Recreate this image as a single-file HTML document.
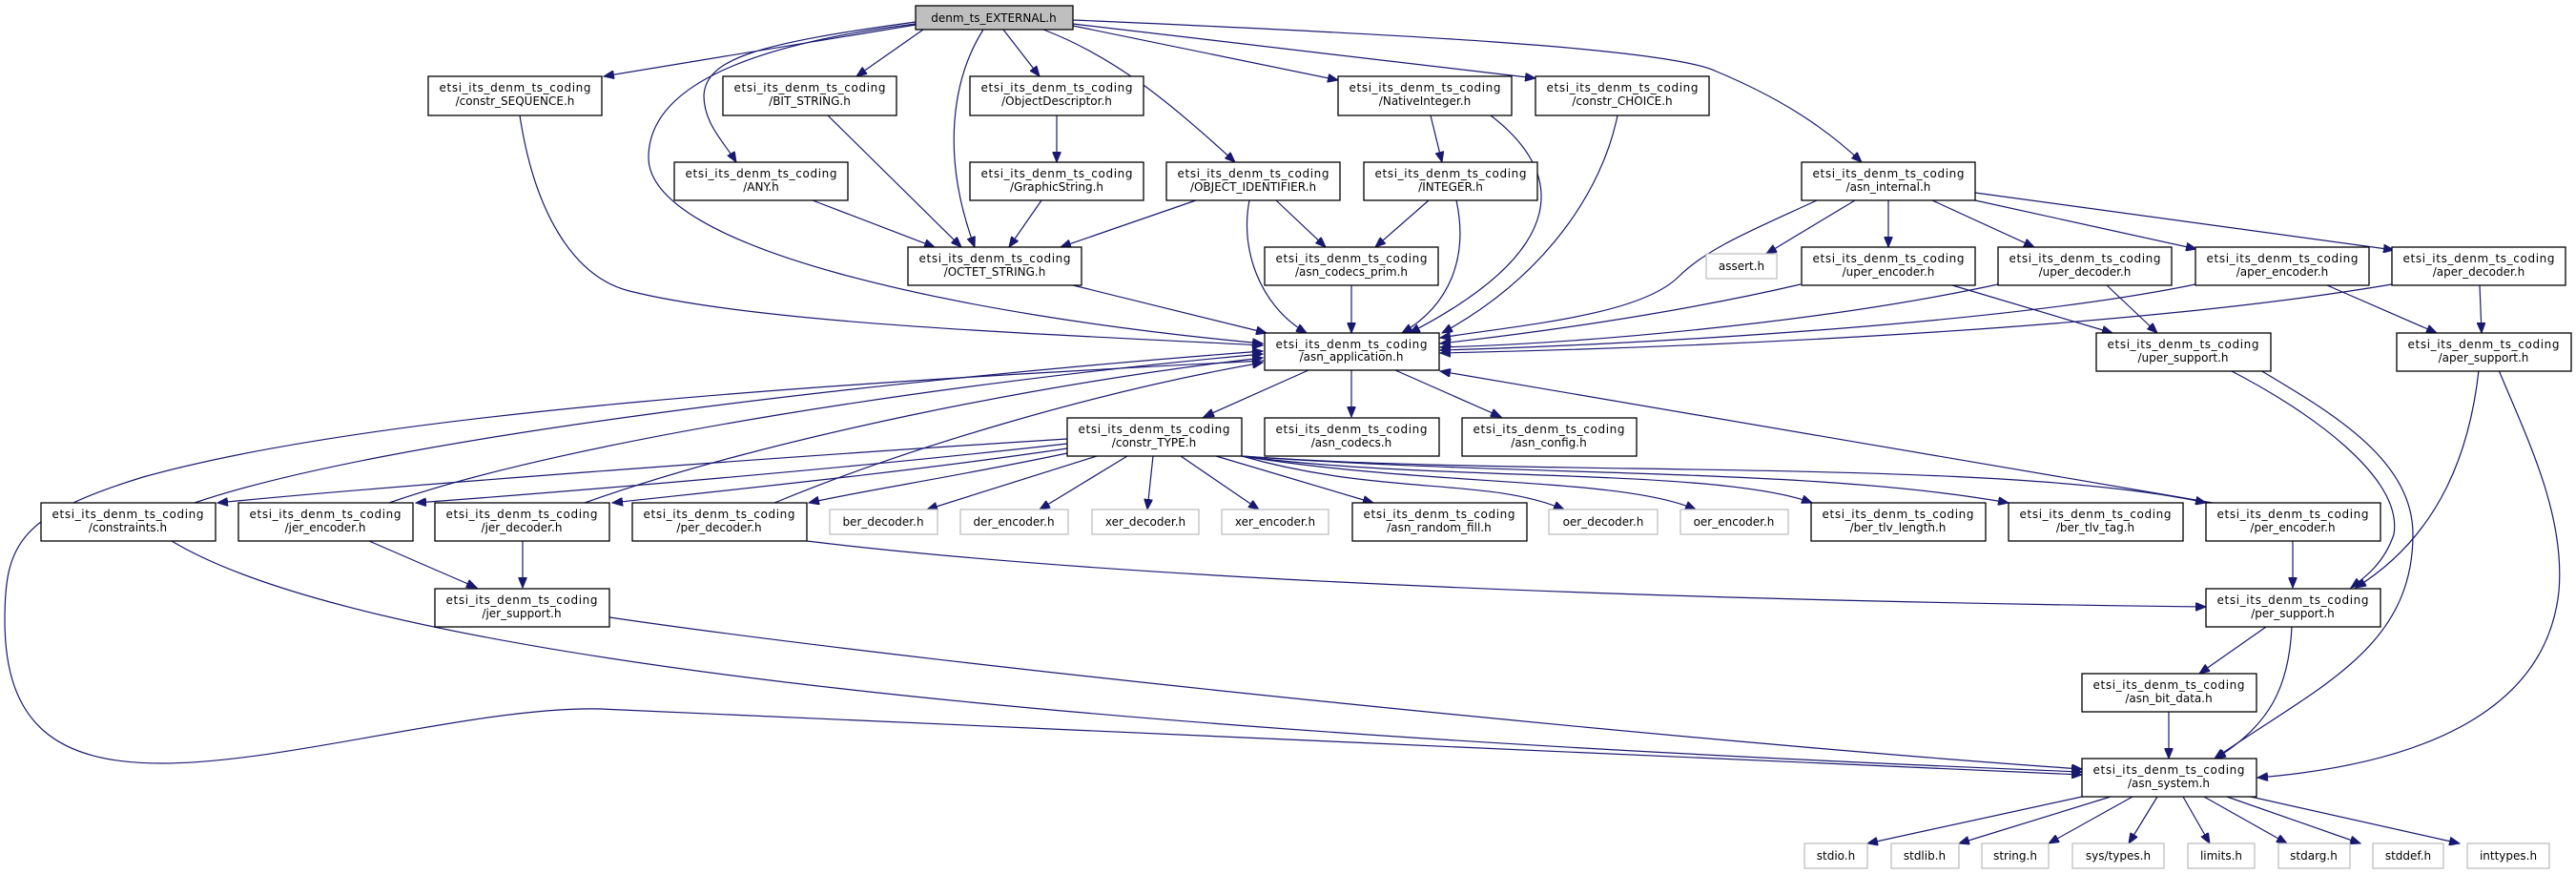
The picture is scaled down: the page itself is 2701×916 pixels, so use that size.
<!DOCTYPE html>
<html><head><meta charset="utf-8"><style>
html,body{margin:0;padding:0;background:#fff}
svg{display:block}
text{font-family:"DejaVu Sans","Liberation Sans",sans-serif;font-size:12px;fill:#000;text-anchor:middle}
.b rect{fill:#fff;stroke:#000;stroke-width:1.3}
.g rect{fill:#fff;stroke:#bfbfbf;stroke-width:1.3}
.r rect{fill:#bfbfbf;stroke:#000;stroke-width:1.3}
path.e{fill:none;stroke:#191970;stroke-width:1.2}
</style></head><body>
<svg width="2701" height="916" viewBox="0 0 2701 916" xmlns="http://www.w3.org/2000/svg">
<defs><marker id="a" markerUnits="userSpaceOnUse" markerWidth="12" markerHeight="9" refX="11" refY="4.5" orient="auto"><path d="M0,0 L11,4.5 L0,9 z" fill="#191970" stroke="#191970"/></marker></defs>
<g marker-end="url(#a)">
<!-- EXTERNAL -->
<path class="e" d="M960,26 L633,80"/>
<path class="e" d="M960,23 C800,45 740,60 738,100 C738,130 760,150 772,170"/>
<path class="e" d="M960,25 C760,50 680,100 680,165 C680,260 1000,330 1324,360"/>
<path class="e" d="M968,31 L898,80"/>
<path class="e" d="M1031,31 C1000,80 985,160 1022,259"/>
<path class="e" d="M1052,31 L1090,80"/>
<path class="e" d="M1094,31 C1170,60 1230,110 1295,170"/>
<path class="e" d="M1125,27 L1403,84"/>
<path class="e" d="M1125,25 L1610,82"/>
<path class="e" d="M1125,21 C1450,35 1750,50 1800,75 C1860,100 1910,130 1952,170"/>
<!-- row2/3 -->
<path class="e" d="M545,121 C560,220 600,290 660,305 C800,340 1100,350 1324,362"/>
<path class="e" d="M868,121 L1008,259"/>
<path class="e" d="M852,210 L980,259"/>
<path class="e" d="M1108,121 L1108,170"/>
<path class="e" d="M1092,210 L1058,259"/>
<path class="e" d="M1254,210 L1112,259"/>
<path class="e" d="M1338,210 L1390,259"/>
<path class="e" d="M1310,210 C1300,260 1320,320 1370,349"/>
<path class="e" d="M1500,121 L1512,170"/>
<path class="e" d="M1563,121 C1640,180 1650,260 1478,349"/>
<path class="e" d="M1498,210 L1442,259"/>
<path class="e" d="M1527,210 C1540,270 1520,320 1470,349"/>
<path class="e" d="M1696,121 C1680,200 1620,290 1512,349"/>
<path class="e" d="M1417,299 L1417,349"/>
<path class="e" d="M1125,299 L1328,349"/>
<!-- asn_internal -->
<path class="e" d="M1905,210 C1840,240 1790,260 1760,290 C1720,330 1600,340 1510,354"/>
<path class="e" d="M1945,210 L1852,266"/>
<path class="e" d="M1980,210 L1980,259"/>
<path class="e" d="M2026,210 L2133,259"/>
<path class="e" d="M2071,210 L2303,261"/>
<path class="e" d="M2071,202 L2510,262"/>
<path class="e" d="M1888,298 C1750,330 1600,350 1510,360"/>
<path class="e" d="M2095,298 C1900,340 1650,360 1510,364"/>
<path class="e" d="M2302,298 C2100,340 1700,362 1510,367"/>
<path class="e" d="M2508,298 C2200,350 1700,366 1510,370"/>
<path class="e" d="M2047,299 L2215,349"/>
<path class="e" d="M2209,299 L2262,349"/>
<path class="e" d="M2440,299 L2555,349"/>
<path class="e" d="M2600,299 L2602,349"/>
<path class="e" d="M2338,388 C2420,430 2520,500 2510,560 C2500,590 2480,605 2465,616"/>
<path class="e" d="M2370,388 C2440,430 2530,480 2530,560 C2530,680 2430,720 2322,795"/>
<path class="e" d="M2599,388 C2590,470 2560,560 2470,616"/>
<path class="e" d="M2620,388 C2650,460 2690,540 2683,620 C2670,740 2550,800 2367,815"/>
<path class="e" d="M2376,657 L2306,706"/>
<path class="e" d="M2403,657 C2400,720 2380,760 2323,795"/>
<path class="e" d="M2274,746 L2274,795"/>
<!-- asn_application -->
<path class="e" d="M1372,388 L1262,437"/>
<path class="e" d="M1417,388 L1417,437"/>
<path class="e" d="M1463,388 L1574,437"/>
<path class="e" d="M1325,378 C900,400 400,430 150,500 C20,540 5,570 5,650 C5,760 60,800 170,800 C300,800 500,740 630,743 C800,750 1900,800 2183,812"/>
<!-- constr_TYPE -->
<path class="e" d="M1119,460 C800,480 400,510 228,527"/>
<path class="e" d="M1119,465 C900,490 600,515 436,527"/>
<path class="e" d="M1119,470 C950,495 750,515 642,527"/>
<path class="e" d="M1119,475 C1000,500 900,515 848,527"/>
<path class="e" d="M1150,478 L972,534"/>
<path class="e" d="M1182,478 L1090,534"/>
<path class="e" d="M1209,478 L1203,534"/>
<path class="e" d="M1238,478 L1320,534"/>
<path class="e" d="M1275,478 L1440,527"/>
<path class="e" d="M1302,478 C1450,520 1560,500 1640,534"/>
<path class="e" d="M1302,478 C1500,510 1700,500 1778,534"/>
<path class="e" d="M1302,478 C1500,505 1800,490 1900,527"/>
<path class="e" d="M1302,478 C1600,500 1900,490 2106,527"/>
<path class="e" d="M1302,478 C1600,500 2100,480 2313,527"/>
<!-- back edges -->
<path class="e" d="M204,527 C400,460 900,400 1324,368"/>
<path class="e" d="M408,527 C600,460 1000,400 1324,371"/>
<path class="e" d="M613,527 C800,460 1100,400 1324,375"/>
<path class="e" d="M812,527 C950,470 1150,410 1324,380"/>
<path class="e" d="M2320,527 L1510,389"/>
<path class="e" d="M387,567 L500,616"/>
<path class="e" d="M548,567 L548,616"/>
<path class="e" d="M639,647 C1000,700 1800,780 2183,806"/>
<path class="e" d="M180,567 C400,700 1200,770 2183,809"/>
<path class="e" d="M846,567 C1200,610 1800,630 2313,636"/>
<path class="e" d="M2404,567 L2404,616"/>
<!-- asn_system -->
<path class="e" d="M2183,835 L1958,884"/>
<path class="e" d="M2213,835 L2054,884"/>
<path class="e" d="M2236,835 L2148,884"/>
<path class="e" d="M2262,835 L2232,884"/>
<path class="e" d="M2289,835 L2317,884"/>
<path class="e" d="M2311,835 L2398,884"/>
<path class="e" d="M2335,835 L2475,884"/>
<path class="e" d="M2360,835 L2579,884"/>
</g>

<g class="r"><rect x="960" y="6" width="165" height="25"/><text x="1042" y="23">denm_ts_EXTERNAL.h</text></g>

<g class="b"><rect x="449" y="80" width="182" height="41"/><text x="540" y="96" textLength="159">etsi_its_denm_ts_coding</text><text x="540" y="110">/constr_SEQUENCE.h</text></g>
<g class="b"><rect x="758" y="80" width="182" height="41"/><text x="849" y="96" textLength="159">etsi_its_denm_ts_coding</text><text x="849" y="110">/BIT_STRING.h</text></g>
<g class="b"><rect x="1017" y="80" width="182" height="41"/><text x="1108" y="96" textLength="159">etsi_its_denm_ts_coding</text><text x="1108" y="110">/ObjectDescriptor.h</text></g>
<g class="b"><rect x="1403" y="80" width="182" height="41"/><text x="1494" y="96" textLength="159">etsi_its_denm_ts_coding</text><text x="1494" y="110">/NativeInteger.h</text></g>
<g class="b"><rect x="1610" y="80" width="182" height="41"/><text x="1701" y="96" textLength="159">etsi_its_denm_ts_coding</text><text x="1701" y="110">/constr_CHOICE.h</text></g>

<g class="b"><rect x="707" y="170" width="182" height="40"/><text x="798" y="186" textLength="159">etsi_its_denm_ts_coding</text><text x="798" y="200">/ANY.h</text></g>
<g class="b"><rect x="1017" y="170" width="182" height="40"/><text x="1108" y="186" textLength="159">etsi_its_denm_ts_coding</text><text x="1108" y="200">/GraphicString.h</text></g>
<g class="b"><rect x="1223" y="170" width="182" height="40"/><text x="1314" y="186" textLength="159">etsi_its_denm_ts_coding</text><text x="1314" y="200">/OBJECT_IDENTIFIER.h</text></g>
<g class="b"><rect x="1430" y="170" width="182" height="40"/><text x="1521" y="186" textLength="159">etsi_its_denm_ts_coding</text><text x="1521" y="200">/INTEGER.h</text></g>
<g class="b"><rect x="1889" y="170" width="182" height="40"/><text x="1980" y="186" textLength="159">etsi_its_denm_ts_coding</text><text x="1980" y="200">/asn_internal.h</text></g>

<g class="b"><rect x="952" y="259" width="182" height="40"/><text x="1043" y="275" textLength="159">etsi_its_denm_ts_coding</text><text x="1043" y="289">/OCTET_STRING.h</text></g>
<g class="b"><rect x="1326" y="259" width="182" height="40"/><text x="1417" y="275" textLength="159">etsi_its_denm_ts_coding</text><text x="1417" y="289">/asn_codecs_prim.h</text></g>
<g class="g"><rect x="1789" y="266" width="74" height="26"/><text x="1826" y="283">assert.h</text></g>
<g class="b"><rect x="1889" y="259" width="182" height="40"/><text x="1980" y="275" textLength="159">etsi_its_denm_ts_coding</text><text x="1980" y="289">/uper_encoder.h</text></g>
<g class="b"><rect x="2095" y="259" width="182" height="40"/><text x="2186" y="275" textLength="159">etsi_its_denm_ts_coding</text><text x="2186" y="289">/uper_decoder.h</text></g>
<g class="b"><rect x="2302" y="259" width="182" height="40"/><text x="2393" y="275" textLength="159">etsi_its_denm_ts_coding</text><text x="2393" y="289">/aper_encoder.h</text></g>
<g class="b"><rect x="2508" y="259" width="182" height="40"/><text x="2599" y="275" textLength="159">etsi_its_denm_ts_coding</text><text x="2599" y="289">/aper_decoder.h</text></g>

<g class="b"><rect x="1326" y="349" width="183" height="39"/><text x="1417" y="365" textLength="159">etsi_its_denm_ts_coding</text><text x="1417" y="378">/asn_application.h</text></g>
<g class="b"><rect x="2198" y="349" width="183" height="40"/><text x="2289" y="365" textLength="159">etsi_its_denm_ts_coding</text><text x="2289" y="379">/uper_support.h</text></g>
<g class="b"><rect x="2513" y="349" width="183" height="40"/><text x="2604" y="365" textLength="159">etsi_its_denm_ts_coding</text><text x="2604" y="379">/aper_support.h</text></g>

<g class="b"><rect x="1119" y="438" width="183" height="40"/><text x="1210" y="454" textLength="159">etsi_its_denm_ts_coding</text><text x="1210" y="468">/constr_TYPE.h</text></g>
<g class="b"><rect x="1326" y="438" width="183" height="40"/><text x="1417" y="454" textLength="159">etsi_its_denm_ts_coding</text><text x="1417" y="468">/asn_codecs.h</text></g>
<g class="b"><rect x="1533" y="438" width="183" height="40"/><text x="1624" y="454" textLength="159">etsi_its_denm_ts_coding</text><text x="1624" y="468">/asn_config.h</text></g>

<g class="b"><rect x="43" y="527" width="183" height="40"/><text x="134" y="543" textLength="159">etsi_its_denm_ts_coding</text><text x="134" y="557">/constraints.h</text></g>
<g class="b"><rect x="250" y="527" width="183" height="40"/><text x="341" y="543" textLength="159">etsi_its_denm_ts_coding</text><text x="341" y="557">/jer_encoder.h</text></g>
<g class="b"><rect x="456" y="527" width="183" height="40"/><text x="547" y="543" textLength="159">etsi_its_denm_ts_coding</text><text x="547" y="557">/jer_decoder.h</text></g>
<g class="b"><rect x="663" y="527" width="183" height="40"/><text x="754" y="543" textLength="159">etsi_its_denm_ts_coding</text><text x="754" y="557">/per_decoder.h</text></g>
<g class="g"><rect x="870" y="534" width="113" height="26"/><text x="926" y="551">ber_decoder.h</text></g>
<g class="g"><rect x="1007" y="534" width="113" height="26"/><text x="1063" y="551">der_encoder.h</text></g>
<g class="g"><rect x="1145" y="534" width="112" height="26"/><text x="1201" y="551">xer_decoder.h</text></g>
<g class="g"><rect x="1281" y="534" width="112" height="26"/><text x="1337" y="551">xer_encoder.h</text></g>
<g class="b"><rect x="1418" y="527" width="183" height="40"/><text x="1509" y="543" textLength="159">etsi_its_denm_ts_coding</text><text x="1509" y="557">/asn_random_fill.h</text></g>
<g class="g"><rect x="1624" y="534" width="114" height="26"/><text x="1681" y="551">oer_decoder.h</text></g>
<g class="g"><rect x="1762" y="534" width="113" height="26"/><text x="1818" y="551">oer_encoder.h</text></g>
<g class="b"><rect x="1899" y="527" width="183" height="40"/><text x="1990" y="543" textLength="159">etsi_its_denm_ts_coding</text><text x="1990" y="557">/ber_tlv_length.h</text></g>
<g class="b"><rect x="2106" y="527" width="183" height="40"/><text x="2197" y="543" textLength="159">etsi_its_denm_ts_coding</text><text x="2197" y="557">/ber_tlv_tag.h</text></g>
<g class="b"><rect x="2313" y="527" width="183" height="40"/><text x="2404" y="543" textLength="159">etsi_its_denm_ts_coding</text><text x="2404" y="557">/per_encoder.h</text></g>

<g class="b"><rect x="456" y="617" width="183" height="40"/><text x="547" y="633" textLength="159">etsi_its_denm_ts_coding</text><text x="547" y="647">/jer_support.h</text></g>
<g class="b"><rect x="2313" y="617" width="183" height="40"/><text x="2404" y="633" textLength="159">etsi_its_denm_ts_coding</text><text x="2404" y="647">/per_support.h</text></g>
<g class="b"><rect x="2183" y="706" width="183" height="40"/><text x="2274" y="722" textLength="159">etsi_its_denm_ts_coding</text><text x="2274" y="736">/asn_bit_data.h</text></g>
<g class="b"><rect x="2183" y="795" width="183" height="40"/><text x="2274" y="811" textLength="159">etsi_its_denm_ts_coding</text><text x="2274" y="825">/asn_system.h</text></g>

<g class="g"><rect x="1892" y="884" width="66" height="26"/><text x="1925" y="901">stdio.h</text></g>
<g class="g"><rect x="1983" y="884" width="71" height="26"/><text x="2018" y="901">stdlib.h</text></g>
<g class="g"><rect x="2078" y="884" width="70" height="26"/><text x="2113" y="901">string.h</text></g>
<g class="g"><rect x="2173" y="884" width="96" height="26"/><text x="2221" y="901">sys/types.h</text></g>
<g class="g"><rect x="2294" y="884" width="70" height="26"/><text x="2329" y="901">limits.h</text></g>
<g class="g"><rect x="2389" y="884" width="75" height="26"/><text x="2426" y="901">stdarg.h</text></g>
<g class="g"><rect x="2488" y="884" width="74" height="26"/><text x="2525" y="901">stddef.h</text></g>
<g class="g"><rect x="2587" y="884" width="86" height="26"/><text x="2630" y="901">inttypes.h</text></g>
</svg>
</body></html>
